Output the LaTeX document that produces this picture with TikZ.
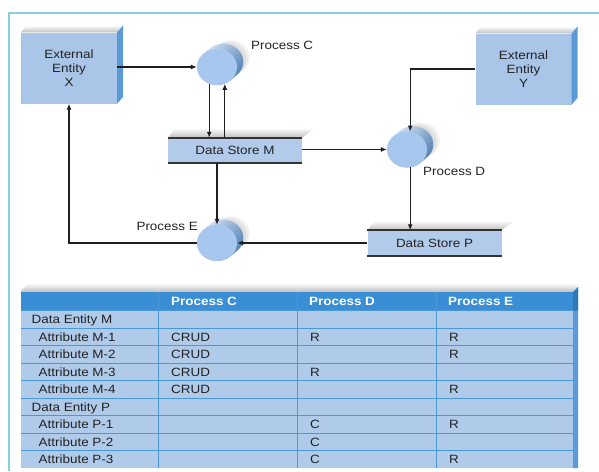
\documentclass[tikz,border=0pt]{standalone}
\usepackage{fontspec}
\setmainfont{Liberation Sans}[FakeStretch=1.12]
\usetikzlibrary{shapes.geometric,arrows.meta,backgrounds,calc}

\definecolor{framecol}{HTML}{8CCFDC}
\definecolor{boxblue}{HTML}{A9C5E8}
\definecolor{sideblue}{HTML}{5A9AD9}
\definecolor{procblue}{HTML}{A8C7EE}
\definecolor{storeblue}{HTML}{B3CBEB}
\definecolor{cellblue}{HTML}{B0CAEA}
\definecolor{headblue}{HTML}{3A8ED6}
\definecolor{gridblue}{HTML}{4B98D9}
\definecolor{inkgray}{HTML}{222222}

\tikzset{
  entity/.style={rectangle, fill=boxblue, minimum width=96pt, minimum height=71pt,
    inner sep=0pt, align=center, text=inkgray, font=\fontsize{12}{14}\selectfont},
  proc/.style={ellipse, fill=procblue, minimum width=40pt, minimum height=36pt, inner sep=0pt},
  store/.style={rectangle, fill=storeblue, minimum width=134pt, minimum height=25pt,
    inner sep=0pt, text=inkgray},
  storeline/.style={draw=black!80, line width=2pt},
  plabel/.style={inner sep=0pt, text=inkgray},
  flow/.style={draw=black!88, line width=1.3pt, -{Latex[length=6pt,width=5pt]}},
  tcell/.style={anchor=west, inner sep=0pt, text height=8.6pt, text depth=0pt, text=inkgray},
  thead/.style={anchor=west, inner sep=0pt, text height=8.6pt, text depth=0pt, text=white,
    font=\fontsize{12}{13}\selectfont\bfseries},
  topface/.style={top color=white, bottom color=gray!50},
}

% raised faces of an external entity box
\newcommand\entityfaces[1]{%
  \shade[topface]
    (#1.north west) -- ++(6,-7) -- ($(#1.north east)+(6,-7)$) -- (#1.north east) -- cycle;
  \fill[sideblue] (#1.north east) -- ++(6,-7) -- ($(#1.south east)+(6,-7)$) -- (#1.south east) -- cycle;
}
% cylinder body behind a process disc: hull of the disc and its copy moved back by (6.3,5.25)
\newcommand\procdepth[1]{%
  \begin{scope}[on background layer]
    \foreach \s in {14,12,10} {
      \fill[gray, opacity=0.09] ($(#1.center)+(\s,-0.7*\s)$) ellipse [x radius=19pt, y radius=17pt];
    }
    \shade[top color=white!60!procblue, bottom color=sideblue!80!black, shading angle=50]
      ($(#1.center)+({20*cos(-47.2)},{-18*sin(-47.2)})$) -- ++(6.3,-5.25)
      arc[start angle=-47.2, end angle=132.8, x radius=20pt, y radius=18pt]
      -- ++(-6.3,5.25)
      arc[start angle=132.8, end angle=312.8, x radius=20pt, y radius=18pt] -- cycle;
  \end{scope}
}
% raised top face and edge lines of a data store
\newcommand\storefaces[1]{%
  \shade[topface]
    (#1.north west) -- ++(8,-10) -- ($(#1.north east)+(13,-10)$) -- (#1.north east) -- cycle;
  \draw[storeline] (#1.north west) -- (#1.north east);
  \draw[storeline] (#1.south west) -- (#1.south east);
}

\begin{document}
\begin{tikzpicture}[x=1pt, y=-1pt, font=\fontsize{12}{13}\selectfont]
\useasboundingbox (0,0) rectangle (599,471);
\begin{scope}[on background layer]
  \fill[white] (0,0) rectangle (599,471);
\end{scope}
\draw[framecol, line width=1.3pt] (9,471) -- (9,13) -- (599,13);

% ---- data flow diagram ----
\node[entity] (X) at (69,68) {External\\Entity\\X};
\node[entity] (Y) at (523.5,69) {External\\Entity\\Y};
\entityfaces{X}
\entityfaces{Y}

\node[proc] (C) at (217,67) {};
\node[proc] (D) at (407,149.5) {};
\node[proc] (E) at (217,243) {};
\procdepth{C}
\procdepth{D}
\procdepth{E}

\node[plabel, anchor=west] (lC) at (251,45.5) {Process C};
\node[plabel, anchor=west] (lD) at (423,171.5) {Process D};
\node[plabel, anchor=east] (lE) at (198,226) {Process E};

\node[store] (M) at (235,150.5) {Data Store M};
\node[store] (P) at (434.5,243) {Data Store P};
\storefaces{M}
\storefaces{P}

\draw[flow] (X.east |- C.west) -- (C.west);
\draw[flow] (C.-115) -- (C.-115 |- M.north);
\draw[flow] (C.-65 |- M.north) -- (C.-65);
\draw[flow] (M.east |- D.west) -- (D.west);
\draw[flow] (Y.west) -| (D.80);
\draw[flow] (D.-80) -- (D.-80 |- P.north);
\draw[flow] (E.north |- M.south) -- (E.north);
\draw[flow] (P.west) -- (E.east);
\draw[flow] (E.west) -| (X.south);

% ---- CRUD matrix ----
\shade[topface]
  (20.5,292) -- (28,283) -- (580,283) -- (573,292) -- cycle;
\fill[sideblue] (573,292) -- (578,287) -- (578,468) -- (573,468) -- cycle;
\fill[headblue!85!black] (573,292) -- (578,287) -- (578,310.5) -- (573,310.5) -- cycle;
\fill[headblue] (20.5,292) rectangle (573,310.5);
\fill[cellblue] (20.5,310.5) rectangle (573,468);
\foreach \r in {1,...,8} {
  \draw[gridblue, line width=0.9pt] (20.5,310.5+17.5*\r) -- (573,310.5+17.5*\r);
}
\draw[gridblue, line width=0.9pt] (20.5,310.5) -- (573,310.5);
\foreach \cx in {158.5,297,436} {
  \draw[gridblue, line width=0.9pt] (\cx,292) -- (\cx,468);
}

\node[thead] (hC) at (171,301.25) {Process C};
\node[thead] (hD) at (309,301.25) {Process D};
\node[thead] (hE) at (448,301.25) {Process E};

\foreach \i/\lab/\ind/\pc/\pd/\pe in {
  1/Data Entity M/0/{}/{}/{},
  2/Attribute M-1/1/CRUD/R/R,
  3/Attribute M-2/1/CRUD/{}/R,
  4/Attribute M-3/1/CRUD/R/{},
  5/Attribute M-4/1/CRUD/{}/R,
  6/Data Entity P/0/{}/{}/{},
  7/Attribute P-1/1/{}/C/R,
  8/Attribute P-2/1/{}/C/{},
  9/Attribute P-3/1/{}/C/R} {
  \pgfmathsetmacro\yy{310.5+17.5*(\i-0.5)}
  \node[tcell] (row\i) at ({31.5+7*\ind},\yy) {\lab};
  \node[tcell] (pc\i) at (171,\yy) {\pc};
  \node[tcell] (pd\i) at (310,\yy) {\pd};
  \node[tcell] (pe\i) at (449,\yy) {\pe};
}
\end{tikzpicture}
\end{document}
